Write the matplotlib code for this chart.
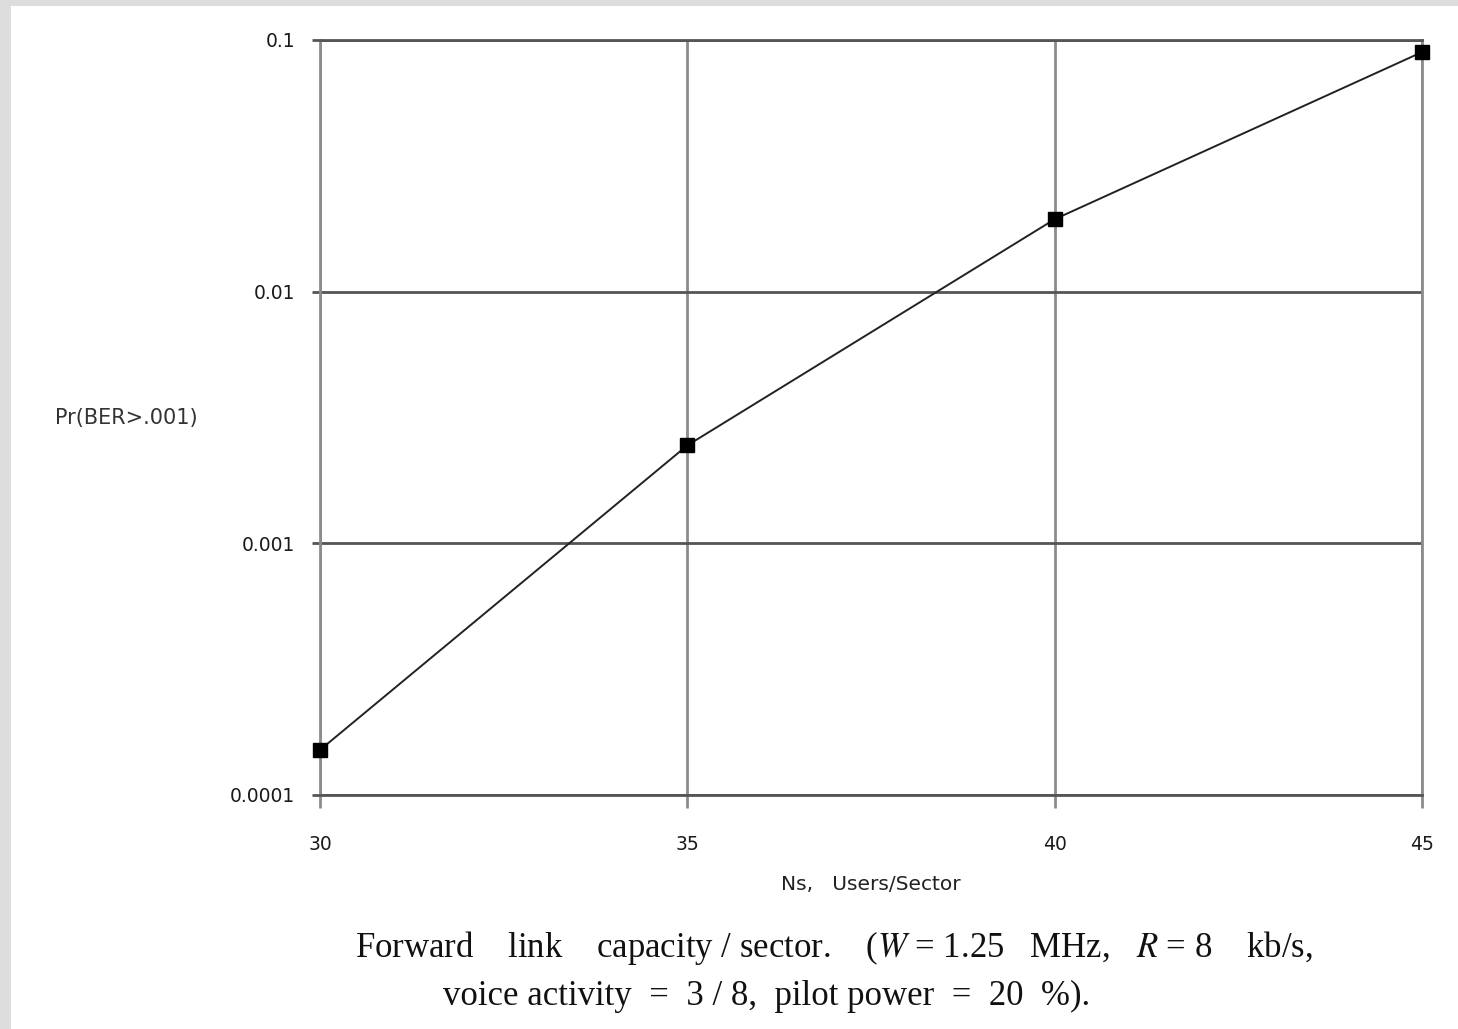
import matplotlib
matplotlib.use("Agg")
import matplotlib.pyplot as plt
from matplotlib.patches import Rectangle
from matplotlib.ticker import FixedLocator, FixedFormatter, NullLocator

plt.rcParams['mathtext.fontset'] = 'stix'

# Data
users = [30, 35, 40, 45]
prob = [0.000151, 0.00245, 0.0194, 0.0895]
xticks = [30, 35, 40, 45]
xticklabels = ["30", "35", "40", "45"]
yticks = [0.0001, 0.001, 0.01, 0.1]
yticklabels = ["0.0001", "0.001", "0.01", "0.1"]

W, H = 1458, 1029
fig = plt.figure(figsize=(W / 100, H / 100), dpi=100)
fig.patch.set_facecolor('#dddddd')
fig.patches.append(Rectangle((11 / W, 0), 1 - 11 / W, 1 - 6 / H, transform=fig.transFigure,
                             facecolor='white', edgecolor='none', zorder=-10))

ax = fig.add_axes([320 / W, 1 - 795 / H, (1422 - 320) / W, (795 - 40) / H])
ax.set_zorder(1)
ax.set_facecolor('white')
ax.set_yscale('log')
ax.set_xlim(30, 45)
ax.set_ylim(0.0001, 0.1)

ax.xaxis.set_major_locator(FixedLocator(xticks))
ax.xaxis.set_major_formatter(FixedFormatter(xticklabels))
ax.yaxis.set_major_locator(FixedLocator(yticks))
ax.yaxis.set_major_formatter(FixedFormatter(yticklabels))
ax.yaxis.set_minor_locator(NullLocator())
ax.xaxis.set_minor_locator(NullLocator())

hcol = '#555555'
vcol = '#8c8c8c'
ax.grid(True, axis='y', color=hcol, linewidth=2)
ax.grid(True, axis='x', color=vcol, linewidth=2)
ax.set_axisbelow(True)
for s in ['top', 'bottom']:
    ax.spines[s].set_color(hcol)
    ax.spines[s].set_linewidth(2)
for s in ['left', 'right']:
    ax.spines[s].set_color(vcol)
    ax.spines[s].set_linewidth(2)

ax.tick_params(axis='y', which='major', direction='out', length=6, width=2, color=hcol,
               pad=12, labelsize=13.5, labelcolor='#1a1a1a')
ax.tick_params(axis='x', which='major', direction='out', length=9, width=2, color=vcol,
               pad=20, labelsize=13.5, labelcolor='#1a1a1a')
for lab in ax.get_xticklabels() + ax.get_yticklabels():
    lab.set_family('DejaVu Sans')

ax.plot(users, prob, color='#222222', linewidth=1.4, marker='s', markersize=10,
        markerfacecolor='black', markeredgecolor='black', zorder=5, clip_on=False)

fig.text(55 / W, 1 - 418 / H, "Pr(BER>.001)", ha='left', va='center', fontsize=15,
         family='DejaVu Sans', color='#333333')
fig.text(871 / W, 1 - 885 / H, "Ns,   Users/Sector", ha='center', va='center', fontsize=14.5,
         family='DejaVu Sans', color='#222222')

cap_kw = dict(va='center', ha='center', fontsize=25, family='Liberation Serif', color='#111111')
fig.text(834 / W, 1 - 948 / H,
         r"Forward    link    capacity / sector.    ($W$ = 1.25   MHz,   $R$ = 8    kb/s,",
         **cap_kw)
fig.text(767 / W, 1 - 996 / H,
         r"voice activity  =  3 / 8,  pilot power  =  20  %).", **cap_kw)

fig.savefig("out.png", dpi=100, facecolor=fig.get_facecolor())
